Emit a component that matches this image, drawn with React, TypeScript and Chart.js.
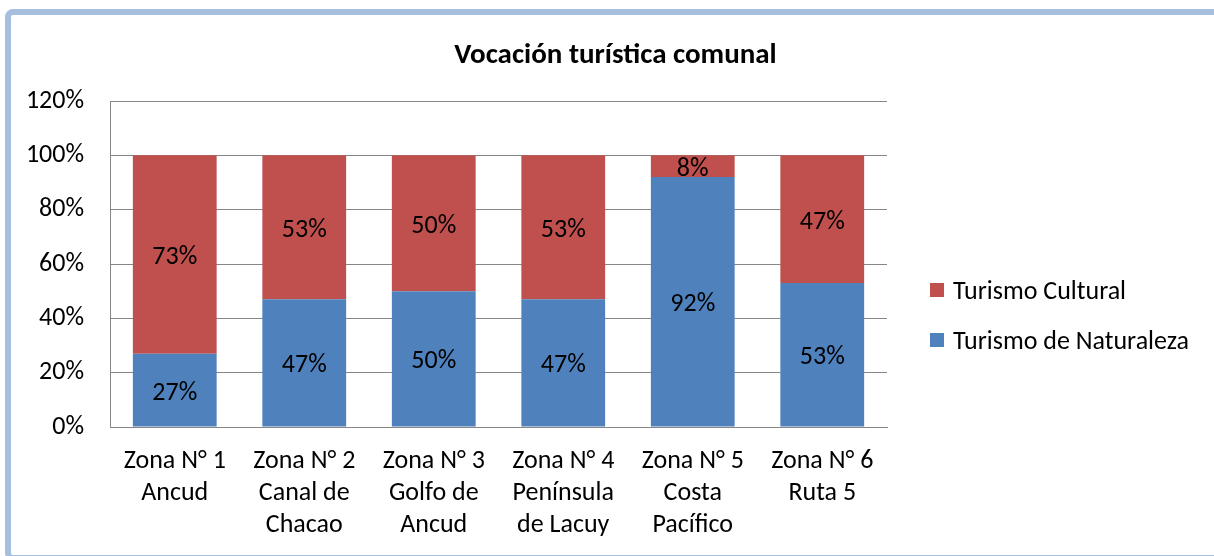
import React, { useEffect, useRef } from "react";
import { Chart, registerables } from "chart.js";

Chart.register(...registerables);

const title = "Vocación turística comunal";
const categories: string[][] = [
  ["Zona N° 1", "Ancud"],
  ["Zona N° 2", "Canal de", "Chacao"],
  ["Zona N° 3", "Golfo de", "Ancud"],
  ["Zona N° 4", "Península", "de Lacuy"],
  ["Zona N° 5", "Costa", "Pacífico"],
  ["Zona N° 6", "Ruta 5"],
];
const seriesNames = ["Turismo de Naturaleza", "Turismo Cultural"];
const naturaleza = [27, 47, 50, 47, 92, 53];
const cultural = [73, 53, 50, 53, 8, 47];
const yMin = 0;
const yMax = 120;
const yStep = 20;

const COLORS = ["#4F81BD", "#C0504D"];
const FONT = "Carlito, Calibri, Lato, sans-serif";
const FS = 26;

const valueLabels = {
  id: "valueLabels",
  afterDatasetsDraw(chart: any) {
    const ctx = chart.ctx;
    ctx.save();
    ctx.font = `${FS}px ${FONT}`;
    ctx.fillStyle = "#000";
    ctx.textAlign = "center";
    ctx.textBaseline = "alphabetic";
    chart.data.datasets.forEach((ds: any, di: number) => {
      const meta = chart.getDatasetMeta(di);
      meta.data.forEach((el: any, i: number) => {
        const v = ds.data[i];
        const p = el.getProps(["x", "y", "base"], true);
        ctx.fillText(`${v}%`, p.x, (p.y + p.base) / 2 + 9.5);
      });
    });
    ctx.restore();
  },
};

const chartTitle = {
  id: "chartTitle",
  afterDraw(chart: any) {
    const ctx = chart.ctx;
    ctx.save();
    ctx.font = `bold 29px ${FONT}`;
    ctx.fillStyle = "#000";
    ctx.textAlign = "center";
    ctx.textBaseline = "alphabetic";
    ctx.fillText(title, chart.width / 2 + 8.5, 63);
    ctx.restore();
  },
};

const sideLegend = {
  id: "sideLegend",
  afterDraw(chart: any) {
    const ctx = chart.ctx;
    const items = Chart.defaults.plugins.legend.labels.generateLabels(chart).slice().reverse();
    const area = chart.chartArea;
    const x = area.right + 43;
    const y0 = area.top + 189;
    const gap = 50;
    ctx.save();
    ctx.font = `${FS}px ${FONT}`;
    ctx.textAlign = "left";
    ctx.textBaseline = "alphabetic";
    items.forEach((it: any, k: number) => {
      const cy = y0 + k * gap;
      ctx.fillStyle = it.fillStyle;
      ctx.fillRect(x, cy - 7, 14, 14);
      ctx.fillStyle = "#000";
      ctx.fillText(it.text, x + 23, cy + 9);
    });
    ctx.restore();
  },
};

export default function App() {
  const ref = useRef<HTMLCanvasElement | null>(null);
  useEffect(() => {
    if (!ref.current) return;
    const chart = new Chart(ref.current, {
      type: "bar",
      data: {
        labels: categories,
        datasets: [
          {
            label: seriesNames[0],
            data: naturaleza,
            backgroundColor: COLORS[0],
            barPercentage: 0.647,
            categoryPercentage: 1,
          },
          {
            label: seriesNames[1],
            data: cultural,
            backgroundColor: COLORS[1],
            barPercentage: 0.647,
            categoryPercentage: 1,
          },
        ],
      },
      options: {
        responsive: false,
        animation: false,
        layout: { padding: { left: 16, right: 327, top: 101, bottom: 0 } },
        plugins: {
          legend: { display: false },
          tooltip: { enabled: false },
          title: { display: false },
        },
        scales: {
          x: {
            stacked: true,
            grid: { display: false, drawTicks: false },
            border: { display: true, color: "#868686", width: 1 },
            ticks: {
              color: "#000",
              font: { family: FONT, size: FS, lineHeight: 32 / FS },
              padding: 18,
              maxRotation: 0,
              autoSkip: false,
            },
            afterFit(scale: any) {
              scale.height = 129;
            },
          },
          y: {
            stacked: true,
            min: yMin,
            max: yMax,
            grid: { color: "#868686", drawTicks: false, lineWidth: 1 },
            border: { display: true, color: "#868686", width: 1 },
            ticks: {
              stepSize: yStep,
              color: "#000",
              font: { family: FONT, size: FS },
              padding: 26,
              callback: (v: any) => `${v}%`,
            },
            afterFit(scale: any) {
              scale.width = 94;
            },
          },
        },
      },
      plugins: [valueLabels, chartTitle, sideLegend],
    });
    return () => chart.destroy();
  }, []);

  return (
    <div style={{ position: "fixed", left: 0, top: 0, width: 1214, height: 556, background: "#fff", overflow: "hidden" }}>
      <div
        style={{
          position: "absolute",
          left: 5,
          top: 9,
          width: 1240,
          height: 552,
          boxSizing: "border-box",
          border: "6px solid #A7BFDE",
          borderRadius: 8,
        }}
      />
      <canvas ref={ref} width={1214} height={556} style={{ position: "absolute", left: 0, top: 0 }} />
    </div>
  );
}
